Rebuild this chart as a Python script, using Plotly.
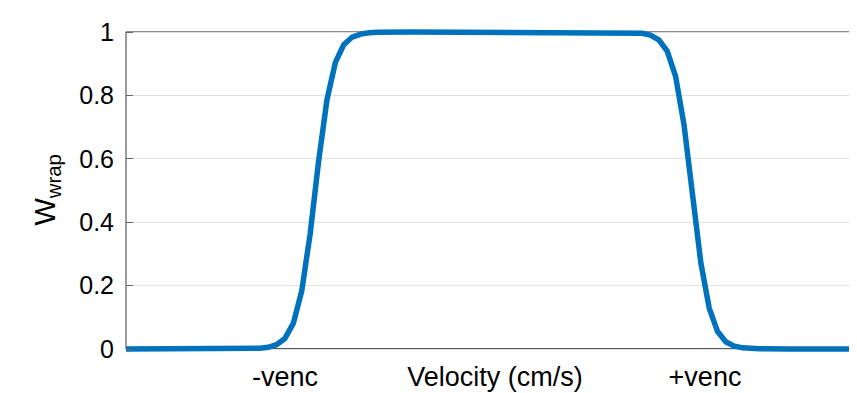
import plotly.graph_objects as go

# Velocity in units of venc
velocity = [-1.80, -1.40, -1.20, -1.16, -1.12, -1.08, -1.04, -1.00, -0.96, -0.92,
            -0.88, -0.84, -0.80, -0.76, -0.72, -0.68, -0.64, -0.60, -0.56, -0.40,
            0.00, 0.40, 0.58, 0.62, 0.66, 0.70, 0.74, 0.78, 0.82, 0.86,
            0.90, 0.94, 0.98, 1.02, 1.06, 1.10, 1.14, 1.18, 1.22, 1.26,
            1.40, 1.80]
w_wrap = [0, 0, 0.0003, 0.0008, 0.0021, 0.0054, 0.0135, 0.0336, 0.0815, 0.184,
          0.364, 0.592, 0.787, 0.904, 0.960, 0.984, 0.9935, 0.9975, 0.999, 1,
          1, 1, 0.9998, 0.9996, 0.9985, 0.996, 0.990, 0.975, 0.940, 0.860,
          0.708, 0.488, 0.273, 0.129, 0.055, 0.022, 0.009, 0.0036, 0.0014, 0.0005,
          0, 0]

x_tick_vals = [-1, 0.0, 1]
x_tick_text = ["-venc", "Velocity (cm/s)", "+venc"]
y_tick_vals = [0, 0.2, 0.4, 0.6, 0.8, 1]
y_tick_text = ["0", "0.2", "0.4", "0.6", "0.8", "1"]

# page has an 8px body margin, so the figure is sized to the remaining window
W, H = 849, 385
L, T, B = 118, 19, 39
eps = 5 / 317
x_range = [-1.7571, 1.7238]

fig = go.Figure()
fig.add_trace(go.Scatter(x=velocity, y=w_wrap, mode="lines",
                         line=dict(color="#0072BD", width=5.5),
                         hoverinfo="skip", showlegend=False))

font = "Liberation Sans, Arial, Helvetica, sans-serif"
fig.update_layout(
    width=W, height=H,
    margin=dict(l=L, r=0, t=T, b=B, pad=0, autoexpand=False),
    paper_bgcolor="white", plot_bgcolor="white",
    font=dict(family=font, size=25, color="#000"),
    xaxis=dict(range=x_range, tickvals=x_tick_vals, ticktext=x_tick_text,
               showgrid=False, zeroline=False, showline=False, ticks="",
               automargin=False, ticklabelstandoff=4,
               tickfont=dict(size=27, color="#000")),
    yaxis=dict(range=[-eps, 1 + eps], tickvals=y_tick_vals, ticktext=y_tick_text,
               showgrid=True, gridcolor="#e0e0e0", gridwidth=1,
               zeroline=False, showline=False, ticks="inside", ticklen=7,
               tickcolor="#666", tickwidth=1, ticklabelstandoff=11,
               automargin=False, tickfont=dict(size=25, color="#000")),
    shapes=[
        dict(type="line", xref="paper", yref="y", x0=0, x1=1, y0=1, y1=1,
             line=dict(color="#666", width=1.3), layer="below"),
        dict(type="line", xref="paper", yref="y", x0=0, x1=1, y0=0, y1=0,
             line=dict(color="#222", width=1.3), layer="below"),
        dict(type="line", xref="paper", yref="y", x0=0, x1=0, y0=0, y1=1,
             line=dict(color="#666", width=1.3), layer="below"),
    ],
    annotations=[
        dict(text="W<sub>wrap</sub>", xref="paper", yref="paper",
             x=-(L - 38) / (W - L), y=0.50, xanchor="center", yanchor="middle",
             textangle=-90, showarrow=False, font=dict(size=29, color="#000")),
    ],
)

fig.write_html("out.html")
